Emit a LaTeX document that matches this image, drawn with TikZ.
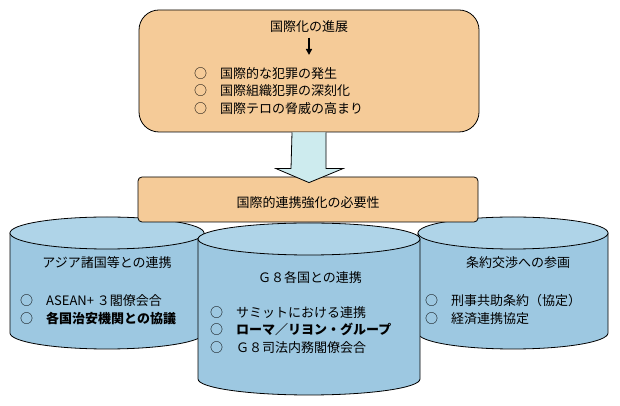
\documentclass[tikz,border=0pt]{standalone}
\usepackage{fontspec}
\setmainfont{Noto Sans CJK JP}
\usetikzlibrary{arrows.meta}
\definecolor{peach}{HTML}{F5CB98}
\definecolor{drumside}{HTML}{9DC8E1}
\definecolor{drumtop}{HTML}{AFD4E8}
\definecolor{fatcyan}{HTML}{CDEBEE}
\begin{document}
\begin{tikzpicture}[x=1pt, y=1pt, font=\fontsize{13}{17.5}\selectfont]
    % Define styles
    \tikzstyle{peachbox}=[rectangle, fill=peach, draw=black, line width=0.8pt, inner sep=0pt]
    \tikzstyle{drumbody}=[fill=drumside, draw=black, line width=0.8pt]
    \tikzstyle{drumlid}=[fill=drumtop, draw=black, line width=0.8pt]
    \tikzstyle{fatarrow}=[fill=fatcyan, draw=black, line width=0.8pt]
    \tikzstyle{listnode}=[anchor=west, align=left, inner sep=0pt]

    \useasboundingbox (0,0) rectangle (620,406);

    % Left drum
    \filldraw[drumbody] (10,173) -- (10,73) arc[start angle=180, end angle=360, x radius=97, y radius=16] -- (204,173) -- cycle;
    \filldraw[drumlid] (107,173) ellipse[x radius=97, y radius=16];
    \node (asiatitle) at (107,143) {アジア諸国等との連携};
    \node[listnode] (asialist) at (20,96.5) {○　ASEAN+ ３閣僚会合\\○　\textbf{各国治安機関との協議}};

    % Right drum
    \filldraw[drumbody] (418,173) -- (418,73) arc[start angle=180, end angle=360, x radius=95, y radius=16] -- (608,173) -- cycle;
    \filldraw[drumlid] (513,173) ellipse[x radius=95, y radius=16];
    \node (treatytitle) at (518,143) {条約交渉への参画};
    \node[listnode] (treatylist) at (425,96.5) {○　刑事共助条約（協定）\\○　経済連携協定};

    % Middle drum
    \filldraw[drumbody] (198,167) -- (198,27) arc[start angle=180, end angle=360, x radius=111, y radius=16] -- (420,167) -- cycle;
    \filldraw[drumlid] (309,167) ellipse[x radius=111, y radius=16];
    \node (gtitle) at (310,128) {Ｇ８各国との連携};
    \node[listnode] (glist) at (210,76) {○　サミットにおける連携\\○　\textbf{ローマ／リヨン・グループ}\\○　Ｇ８司法内務閣僚会合};

    % Top box
    \node[peachbox, minimum width=340, minimum height=122, rounded corners=20] (topbox) at (309,335) {};
    \node (toptitle) at (309,379) {国際化の進展};
    \coordinate (arrowend) at (309,351);
    \draw[-{Triangle[length=6pt, width=6pt]}, line width=1.6pt] ([yshift=-1]toptitle.south) -- (arrowend);
    \node[listnode] (toplist) at (194,315) {○　国際的な犯罪の発生\\○　国際組織犯罪の深刻化\\○　国際テロの脅威の高まり};

    % Middle box
    \node[peachbox, minimum width=340, minimum height=45, rounded corners=4] (midbox) at (308,206.5) {};
    \node (midtitle) at (308,203) {国際的連携強化の必要性};

    % Fat arrow between the boxes
    \filldraw[fatarrow] ([xshift=-17]topbox.south) -- ([xshift=-17, yshift=8]midbox.north) -- ([xshift=-32, yshift=8]midbox.north) -- ([xshift=1, yshift=-6]midbox.north) -- ([xshift=35, yshift=8]midbox.north) -- ([xshift=18, yshift=8]midbox.north) -- ([xshift=17]topbox.south);
\end{tikzpicture}
\end{document}
